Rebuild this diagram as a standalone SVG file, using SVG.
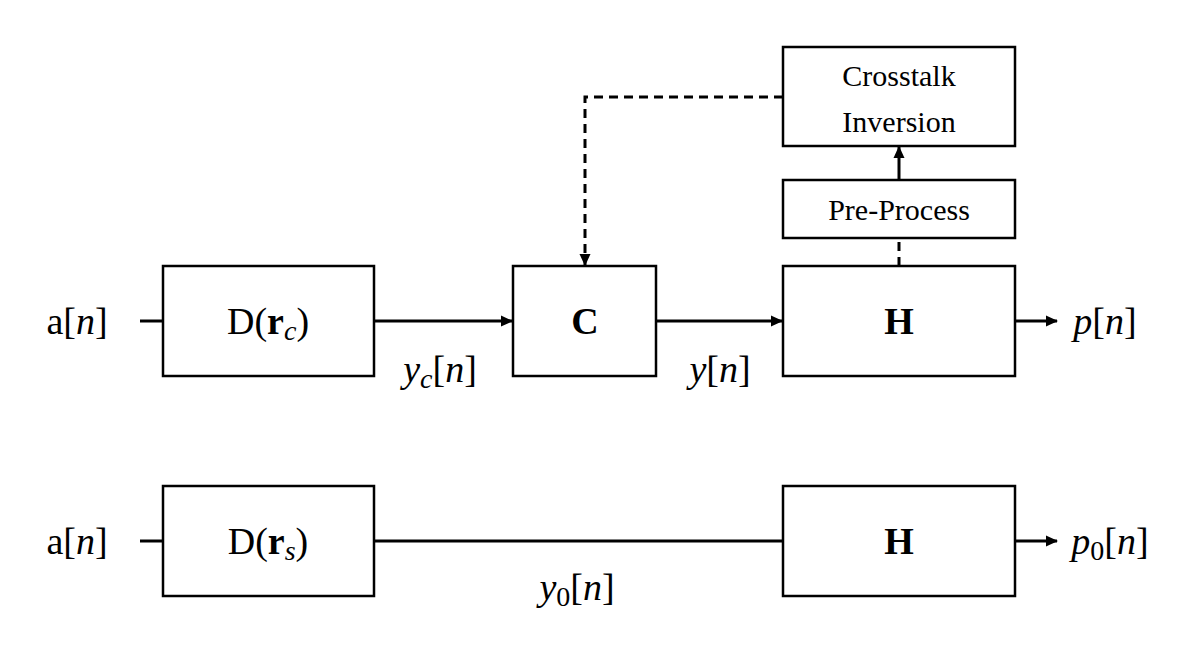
<svg xmlns="http://www.w3.org/2000/svg" width="1200" height="650" viewBox="0 0 1200 650">
<style>
.box{fill:#fff;stroke:#000;stroke-width:2.5}
.ln{fill:none;stroke:#000;stroke-width:3}
.dash{fill:none;stroke:#000;stroke-width:3;stroke-dasharray:9,6}
text{font-family:"Liberation Serif","DejaVu Serif",serif;fill:#000}
.big{font-size:38px}
.sm{font-size:30px}
.it{font-style:italic}
.b{font-weight:bold}
</style>
<defs>
<marker id="ah" markerWidth="12" markerHeight="12" refX="11" refY="6" orient="auto" markerUnits="userSpaceOnUse">
<path d="M0,0.5 L12,6 L0,11.5 z" fill="#000"/>
</marker>
</defs>
<rect width="1200" height="650" fill="#fff"/>
<g id="connectors">
<line class="ln" x1="140" y1="321" x2="163" y2="321"/>
<line class="ln" x1="374" y1="321" x2="512" y2="321" marker-end="url(#ah)"/>
<line class="ln" x1="656" y1="321" x2="782" y2="321" marker-end="url(#ah)"/>
<line class="ln" x1="1015" y1="321" x2="1057" y2="321" marker-end="url(#ah)"/>
<polyline class="dash" points="783,97 585,97 585,265" marker-end="url(#ah)"/>
<line class="dash" x1="899" y1="266" x2="899" y2="238"/>
<line class="ln" x1="899" y1="180" x2="899" y2="147" marker-end="url(#ah)"/>
<line class="ln" x1="140" y1="541" x2="163" y2="541"/>
<line class="ln" x1="374" y1="541" x2="783" y2="541"/>
<line class="ln" x1="1015" y1="541" x2="1057" y2="541" marker-end="url(#ah)"/>
</g>
<g id="dc"><rect class="box" x="163" y="266" width="211" height="110"/>
<text class="big" x="268" y="334" text-anchor="middle">D(<tspan class="b">r</tspan><tspan class="it" font-size="28" dy="6">c</tspan><tspan dy="-6">)</tspan></text></g>
<g id="c"><rect class="box" x="513" y="266" width="143" height="110"/>
<text class="big b" x="585" y="334" text-anchor="middle">C</text></g>
<g id="h1"><rect class="box" x="783" y="266" width="232" height="110"/>
<text class="big b" x="899" y="334" text-anchor="middle">H</text></g>
<g id="pre"><rect class="box" x="783" y="180" width="232" height="58"/>
<text class="sm" x="899" y="220" text-anchor="middle">Pre-Process</text></g>
<g id="ct"><rect class="box" x="783" y="47" width="232" height="99"/>
<text class="sm" x="899" y="86" text-anchor="middle">Crosstalk</text>
<text class="sm" x="899" y="132" text-anchor="middle">Inversion</text></g>
<g id="ds"><rect class="box" x="163" y="486" width="211" height="110"/>
<text class="big" x="268" y="554" text-anchor="middle">D(<tspan class="b">r</tspan><tspan class="it" font-size="28" dy="6">s</tspan><tspan dy="-6">)</tspan></text></g>
<g id="h2"><rect class="box" x="783" y="486" width="232" height="110"/>
<text class="big b" x="899" y="554" text-anchor="middle">H</text></g>
<g id="labels">
<text class="big" x="77" y="334" text-anchor="middle">a[<tspan class="it">n</tspan>]</text>
<text class="big" x="77" y="554" text-anchor="middle">a[<tspan class="it">n</tspan>]</text>
<text class="big" x="440" y="382" text-anchor="middle"><tspan class="it">y</tspan><tspan class="it" font-size="28" dy="6">c</tspan><tspan dy="-6">[</tspan><tspan class="it">n</tspan>]</text>
<text class="big" x="720" y="382" text-anchor="middle"><tspan class="it">y</tspan>[<tspan class="it">n</tspan>]</text>
<text class="big" x="1105" y="334" text-anchor="middle"><tspan class="it">p</tspan>[<tspan class="it">n</tspan>]</text>
<text class="big" x="577" y="600" text-anchor="middle"><tspan class="it">y</tspan><tspan font-size="28" dy="6">0</tspan><tspan dy="-6">[</tspan><tspan class="it">n</tspan>]</text>
<text class="big" x="1110" y="554" text-anchor="middle"><tspan class="it">p</tspan><tspan font-size="28" dy="6">0</tspan><tspan dy="-6">[</tspan><tspan class="it">n</tspan>]</text>
</g>
</svg>
